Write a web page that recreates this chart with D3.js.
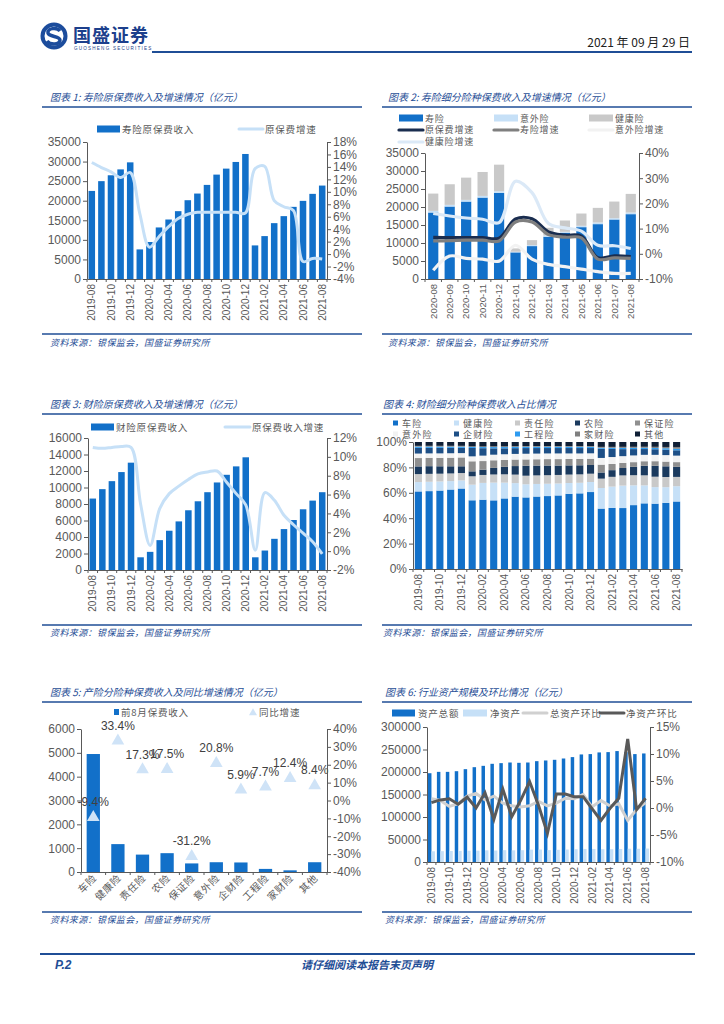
<!DOCTYPE html>
<html>
<head>
<meta charset="utf-8">
<script src="https://cdn.jsdelivr.net/npm/d3@7"></script>
<style>
  body { margin: 0; background: #fff; }
  svg text { font-family: "Liberation Sans", Arial, "Noto Sans CJK SC", sans-serif; }
  svg text.cn { font-family: "Noto Sans CJK SC", sans-serif; }
</style>
</head>
<body>
<div id="page"></div>
<script>
// ---- data ----
var months25 = ["2019-08","2019-09","2019-10","2019-11","2019-12","2020-01","2020-02","2020-03","2020-04","2020-05","2020-06","2020-07","2020-08","2020-09","2020-10","2020-11","2020-12","2021-01","2021-02","2021-03","2021-04","2021-05","2021-06","2021-07","2021-08"];
var months13 = ["2020-08","2020-09","2020-10","2020-11","2020-12","2021-01","2021-02","2021-03","2021-04","2021-05","2021-06","2021-07","2021-08"];

// chart 1: life premium (亿元) and growth (%)
var lifePremium = [22500,25000,26500,28000,29800,7560,9450,13170,15200,17330,20130,21830,24040,26670,28200,29900,31940,8580,10960,14270,16060,18430,19960,21750,23870];
var lifeGrowth = [14.7,13.9,13.2,12.3,13.1,6.5,1.1,2.8,4.4,5.7,6.4,6.7,6.7,6.7,6.7,6.7,6.6,13.7,14.1,8.6,7.6,7.0,-1.2,-0.7,-0.8];

// chart 2: life split
var life13 = [18470,20130,21510,22620,23910,7390,9140,11730,12830,14400,15240,16530,18010];
var accident13 = [460,460,470,460,470,180,280,370,280,370,460,370,460];
var health13 = [4800,5730,6180,6650,7380,930,1380,2120,3140,3420,4060,4610,5170];
var totalGrowth13 = [6.5,6.4,6.4,6.4,6.2,13.8,13.9,8.7,7.4,7.0,-1.6,-0.8,-1.1];
var lifeGrowth13 = [5.1,5.2,5.4,5.4,5.1,12.6,12.6,7.6,6.6,6.3,-2.1,-1.6,-1.8];
var accidentGrowth13 = [-6.5,-0.9,-1.8,-2.1,-2.9,3.4,-2.1,-4.2,-5.1,-6.1,-7.1,-7.8,-7.8];
var healthGrowth13 = [16.0,15.0,14.2,13.7,12.4,28.8,24.3,12.0,10.3,9.0,3.4,3.2,2.1];

// chart 3: property premium
var propPremium = [8660,9800,10770,11870,13010,1540,2200,3620,4760,5890,7240,8330,9430,10610,11540,12560,13660,1540,2360,3780,4960,6060,7360,8410,9430];
var propGrowth = [11.0,10.9,11.0,11.1,11.0,5.0,0.6,4.5,6.1,6.9,7.6,8.2,8.4,8.5,7.3,6.1,4.9,0.1,6.2,5.4,3.8,2.8,1.9,1.0,-0.3];

// chart 4: property line shares (%)
var shareKeys = ["车险","健康险","责任险","农险","保证险","意外险","企财险","工程险","家财险","其他"];
var shareAuto = [60.4,60.9,61.4,62.2,63.0,54.1,54.9,54.1,55.9,57.7,56.7,57.5,58.0,58.5,59.8,60.1,61.2,47.0,47.5,47.8,50.4,52.2,51.4,52.0,53.0];
var shareHealth = [7.3,7.3,7.1,6.6,6.3,12.3,13.3,14.0,12.5,10.8,10.4,10.0,9.8,9.5,8.6,8.4,8.0,16.0,16.6,17.6,15.6,14.3,13.0,12.3,12.0];
var shareLiab = [6.2,6.2,6.1,6.0,5.8,6.6,6.3,6.4,6.6,6.8,6.8,6.8,6.8,6.8,6.7,6.7,6.6,7.3,7.6,8.0,8.0,8.0,8.2,8.0,7.3];
var shareAgri = [6.0,6.0,5.8,5.6,5.3,3.9,4.2,5.2,5.9,6.8,7.9,7.8,7.7,7.5,7.3,7.2,6.9,4.8,5.2,5.8,6.6,7.6,8.6,8.4,7.9];
var shareSurety = [6.5,6.5,6.6,6.7,6.9,7.9,6.8,6.0,5.5,5.2,5.0,5.0,5.1,5.1,5.1,5.0,5.0,6.1,4.8,4.0,3.7,3.6,3.6,3.7,3.7];
var shareAccident = [3.5,3.5,3.5,3.5,3.4,3.9,4.3,4.4,4.5,4.5,4.5,4.5,4.5,4.5,4.4,4.4,4.3,5.2,5.4,5.3,5.3,5.1,5.0,5.1,5.1];
var shareProp = [4.4,4.3,4.3,4.2,4.1,6.6,5.9,5.0,4.7,4.6,4.5,4.4,4.3,4.3,4.3,4.3,4.2,7.1,6.3,5.5,5.0,4.6,4.4,4.3,4.2];
var shareEng = [1.0,1.0,1.0,1.0,1.0,0.8,0.9,1.0,1.0,1.0,1.0,1.0,1.0,1.0,1.0,1.0,1.0,0.8,0.9,1.0,1.0,1.0,1.0,1.1,1.2];
var shareHome = [0.6,0.6,0.6,0.6,0.6,0.5,0.5,0.6,0.6,0.6,0.6,0.6,0.6,0.6,0.6,0.6,0.6,0.7,0.7,0.8,0.8,0.8,0.9,1.0,1.4];
var shareOther = [3.0,3.0,3.0,3.0,3.0,3.4,3.5,3.4,3.4,3.3,3.2,3.2,3.2,3.2,3.2,3.2,3.2,3.8,3.8,3.8,3.8,3.8,3.8,3.9,3.9];
var shareColors = ["#1270c9","#c6e0f7","#c9c9c9","#1b3a5e","#8f8f8f","#f2f2f2","#1d4f86","#2e9bf0","#7f7f7f","#0f1f35"];

// chart 5: by line, Jan-Aug
var cats5 = ["车险","健康险","责任险","农险","保证险","意外险","企财险","工程险","家财险","其他"];
var prem5 = [4950,1170,730,790,360,410,400,130,70,410];
var growth5 = [-9.4,33.4,17.3,17.5,-31.2,20.8,5.9,7.7,12.4,8.4];

// chart 6: industry assets
var totalAssets = [197300,200300,200300,201800,206300,210700,213700,218200,219700,221100,220400,221100,224100,225600,227100,230000,233100,239000,239800,243500,244200,246500,244000,239800,241200];
var netAssets = [23800,24100,24500,24700,25100,25200,25900,25400,26300,25900,26200,27500,27700,26400,27100,27800,28400,29000,29000,28400,28400,28900,29500,29400,29900];
var totalMoM = [1.7,1.4,0.3,0.8,2.2,2.7,1.5,2.2,0.9,0.4,0.2,0.4,1.2,0.4,0.9,1.8,1.7,2.5,0.2,1.4,0.4,0.8,-2.3,-0.3,1.0];
var netMoM = [1.0,1.5,1.7,0.7,2.0,0.0,2.8,-2.1,3.5,-1.6,1.4,4.9,0.5,-4.7,2.6,2.6,2.1,2.1,-0.1,-2.3,-0.1,1.8,12.8,-0.3,1.8];

// ---- styles ----
var BLUE = "#1270c9", LIGHT = "#c6e0f7", NAVY = "#1f4e96", GREY = "#595959";
var LEG = 9.5;

var svg = d3.select("#page").append("svg")
  .attr("width", 724).attr("height", 1024);
svg.append("rect").attr("width", 724).attr("height", 1024).attr("fill", "#fff");

function pct(d) { return Math.round(d) + "%"; }

function yAxis(g, scale, x, side, n, fmt) {
  var ax = (side == "left" ? d3.axisLeft(scale) : d3.axisRight(scale))
    .ticks(n).tickFormat(fmt).tickSize(4).tickSizeOuter(0).tickPadding(2);
  var a = g.append("g").attr("transform", "translate(" + x + ",0)").call(ax);
  a.select(".domain").attr("stroke", GREY);
  a.selectAll(".tick line").attr("stroke", GREY);
  a.selectAll("text").attr("fill", GREY).attr("font-size", 12)
    .attr("font-family", "Liberation Sans, Arial, sans-serif");
  return a;
}

function xAxis(g, scale, y, every, size) {
  var a = g.append("g").attr("transform", "translate(0," + y + ")")
    .call(d3.axisBottom(scale).tickSize(0).tickSizeOuter(0)
      .tickFormat(function (d, i) { return i % every == 0 ? d : ""; }));
  a.select(".domain").attr("stroke", GREY);
  a.selectAll("text")
    .attr("transform", "rotate(-90)").attr("text-anchor", "end")
    .attr("x", -5).attr("y", 0).attr("dy", "0.35em")
    .attr("fill", GREY).attr("font-size", size)
    .attr("font-family", "Liberation Sans, Arial, sans-serif");
  // small tick marks between categories
  var st = scale.step(), r = scale.range();
  a.selectAll("line.sep").data(d3.range(scale.domain().length + 1)).enter()
    .append("line").attr("class", "sep")
    .attr("x1", function (i) { return r[0] + i * st; })
    .attr("x2", function (i) { return r[0] + i * st; })
    .attr("y1", 0).attr("y2", 3).attr("stroke", GREY);
  return a;
}

function cnText(g, x, y, s, size, color, anchor) {
  return g.append("text").attr("class", "cn").attr("x", x).attr("y", y)
    .attr("font-size", size).attr("fill", color || GREY)
    .attr("text-anchor", anchor || "start").text(s);
}
function legText(g, x, y, s, size) {
  return cnText(g, x, y, s, size || LEG).attr("letter-spacing", 0.8);
}

function swatchRect(g, x, y, w, h, c) {
  g.append("rect").attr("x", x).attr("y", y - h / 2).attr("width", w).attr("height", h).attr("fill", c);
}
function swatchLine(g, x, y, w, c, sw) {
  g.append("line").attr("x1", x).attr("x2", x + w).attr("y1", y).attr("y2", y)
    .attr("stroke", c).attr("stroke-width", sw || 3).attr("stroke-linecap", "round");
}

function titleBlock(x0, x1, tx, ty, title, lineY, srcY) {
  cnText(svg, tx, ty, title, 10, NAVY).attr("font-style", "italic");
  svg.append("line").attr("x1", x0).attr("x2", x1).attr("y1", ty + 6).attr("y2", ty + 6)
    .attr("stroke", NAVY).attr("stroke-width", 1.5);
  svg.append("line").attr("x1", x0).attr("x2", x1).attr("y1", lineY).attr("y2", lineY)
    .attr("stroke", NAVY).attr("stroke-width", 1.5);
  cnText(svg, tx, srcY, "资料来源：银保监会，国盛证券研究所", 9, NAVY)
    .attr("font-style", "italic").attr("letter-spacing", 0.4);
}

// ---- header ----
var logo = svg.append("g").attr("transform", "translate(54,36)");
logo.append("circle").attr("r", 11.5).attr("fill", "none").attr("stroke", "#1c4c9c").attr("stroke-width", 4);
logo.append("path").attr("d", "M6,-5 C3,-9 -7,-8 -6,-3 C-5,1 6,0 6,4 C6,9 -4,9 -7,5")
  .attr("fill", "none").attr("stroke", "#1c4c9c").attr("stroke-width", 3.5);
svg.append("text").attr("class", "cn").attr("x", 73).attr("y", 42)
  .attr("font-size", 18).attr("font-weight", "bold").attr("fill", "#1c3f8c")
  .attr("letter-spacing", 1).text("国盛证券");
svg.append("text").attr("x", 74).attr("y", 50).attr("font-size", 4.6)
  .attr("fill", "#1c3f8c").attr("letter-spacing", 1.2).text("GUOSHENG SECURITIES");
svg.append("line").attr("x1", 152).attr("x2", 692).attr("y1", 52).attr("y2", 52)
  .attr("stroke", NAVY).attr("stroke-width", 2);
cnText(svg, 690, 47, "2021 年 09 月 29 日", 12, "#222", "end");

// ---- footer ----
svg.append("line").attr("x1", 40).attr("x2", 695).attr("y1", 954).attr("y2", 954)
  .attr("stroke", NAVY).attr("stroke-width", 2);
svg.append("text").attr("x", 55).attr("y", 969).attr("font-size", 12).attr("font-weight", "bold")
  .attr("font-style", "italic").attr("fill", NAVY).text("P.2");
cnText(svg, 367, 969, "请仔细阅读本报告末页声明", 11, NAVY, "middle")
  .attr("font-weight", "bold").attr("font-style", "italic");

// ---- chart 1 ----
(function () {
  titleBlock(42, 362, 50, 101, "图表 1:  寿险原保费收入及增速情况（亿元）", 334, 346);
  var g = svg.append("g");
  var x = d3.scaleBand().domain(months25).range([87, 327]).paddingInner(0.32).paddingOuter(0.16);
  var y = d3.scaleLinear().domain([0, 35000]).range([279, 142]);
  var yr = d3.scaleLinear().domain([-4, 18]).range([279, 142]);
  g.selectAll("rect.bar").data(lifePremium).enter().append("rect")
    .attr("x", function (d, i) { return x(months25[i]); })
    .attr("y", function (d) { return y(d); })
    .attr("width", x.bandwidth())
    .attr("height", function (d) { return y(0) - y(d); })
    .attr("fill", BLUE);
  g.append("path").datum(lifeGrowth)
    .attr("d", d3.line()
      .x(function (d, i) { return x(months25[i]) + x.bandwidth() / 2; })
      .y(function (d) { return yr(d); })
      .curve(d3.curveCatmullRom))
    .attr("fill", "none").attr("stroke", LIGHT).attr("stroke-width", 3);
  yAxis(g, y, 87, "left", 7, d3.format("d"));
  yAxis(g, yr, 327, "right", 11, pct);
  xAxis(g, x, 279, 2, 10);
  swatchRect(g, 97, 129, 23, 7, BLUE);
  legText(g, 122, 132.5, "寿险原保费收入");
  swatchLine(g, 239, 129, 24, LIGHT, 3);
  legText(g, 265, 132.5, "原保费增速");
})();

// ---- chart 2 ----
(function () {
  titleBlock(382, 692, 388, 101, "图表 2:  寿险细分险种保费收入及增速情况（亿元）", 334, 346);
  var g = svg.append("g");
  var x = d3.scaleBand().domain(months13).range([425, 639]).paddingInner(0.38).paddingOuter(0.19);
  var y = d3.scaleLinear().domain([0, 35000]).range([279, 153]);
  var yr = d3.scaleLinear().domain([-10, 40]).range([279, 153]);
  var rows = months13.map(function (m, i) {
    return { m: m, life: life13[i], acc: accident13[i], health: health13[i] };
  });
  var keys = ["life", "acc", "health"], cols = [BLUE, LIGHT, "#c9c9c9"];
  var series = d3.stack().keys(keys)(rows);
  g.selectAll("g.s").data(series).enter().append("g")
    .attr("fill", function (d, i) { return cols[i]; })
    .selectAll("rect").data(function (d) { return d; }).enter().append("rect")
    .attr("x", function (d) { return x(d.data.m); })
    .attr("y", function (d) { return y(d[1]); })
    .attr("width", x.bandwidth())
    .attr("height", function (d) { return y(d[0]) - y(d[1]); });
  var lines = [
    { v: totalGrowth13, c: "#1a2d4f" },
    { v: lifeGrowth13, c: "#7f7f7f" },
    { v: accidentGrowth13, c: "#f2f2f2" },
    { v: healthGrowth13, c: "#dbe9f7" }
  ];
  var line = d3.line()
    .x(function (d, i) { return x(months13[i]) + x.bandwidth() / 2; })
    .y(function (d) { return yr(d); })
    .curve(d3.curveCatmullRom);
  g.selectAll("path.l").data(lines).enter().append("path")
    .attr("d", function (d) { return line(d.v); })
    .attr("fill", "none").attr("stroke", function (d) { return d.c; }).attr("stroke-width", 3.2);
  yAxis(g, y, 425, "left", 7, d3.format("d"));
  yAxis(g, yr, 639, "right", 5, pct);
  xAxis(g, x, 279, 1, 9.5);
  swatchRect(g, 399, 118, 24, 7, BLUE); legText(g, 425, 121.5, "寿险", 9);
  swatchRect(g, 494, 118, 24, 7, LIGHT); legText(g, 520, 121.5, "意外险", 9);
  swatchRect(g, 589, 118, 24, 7, "#c9c9c9"); legText(g, 615, 121.5, "健康险", 9);
  swatchLine(g, 399, 130, 24, "#1a2d4f", 3.2); legText(g, 425, 133, "原保费增速", 9);
  swatchLine(g, 494, 130, 24, "#7f7f7f", 3.2); legText(g, 520, 133, "寿险增速", 9);
  swatchLine(g, 589, 130, 24, "#f2f2f2", 3.2); legText(g, 615, 133, "意外险增速", 9);
  swatchLine(g, 399, 142, 24, "#dbe9f7", 3.2); legText(g, 425, 145, "健康险增速", 9);
})();

// ---- chart 3 ----
(function () {
  titleBlock(42, 362, 50, 408, "图表 3:  财险原保费收入及增速情况（亿元）", 625, 636);
  var g = svg.append("g");
  var x = d3.scaleBand().domain(months25).range([88, 327]).paddingInner(0.32).paddingOuter(0.16);
  var y = d3.scaleLinear().domain([0, 16000]).range([570, 438]);
  var yr = d3.scaleLinear().domain([-2, 12]).range([570, 438]);
  g.selectAll("rect.bar").data(propPremium).enter().append("rect")
    .attr("x", function (d, i) { return x(months25[i]); })
    .attr("y", function (d) { return y(d); })
    .attr("width", x.bandwidth())
    .attr("height", function (d) { return y(0) - y(d); })
    .attr("fill", BLUE);
  g.append("path").datum(propGrowth)
    .attr("d", d3.line()
      .x(function (d, i) { return x(months25[i]) + x.bandwidth() / 2; })
      .y(function (d) { return yr(d); })
      .curve(d3.curveCatmullRom))
    .attr("fill", "none").attr("stroke", LIGHT).attr("stroke-width", 3);
  yAxis(g, y, 88, "left", 8, d3.format("d"));
  yAxis(g, yr, 327, "right", 7, pct);
  xAxis(g, x, 570, 2, 10);
  swatchRect(g, 91, 427, 23, 7, BLUE);
  legText(g, 116, 430.5, "财险原保费收入");
  swatchLine(g, 225, 427, 25, LIGHT, 3);
  legText(g, 252, 430.5, "原保费收入增速");
})();

// ---- chart 4 ----
(function () {
  titleBlock(382, 692, 383, 408, "图表 4:  财险细分险种保费收入占比情况", 625, 636);
  var g = svg.append("g");
  var x = d3.scaleBand().domain(months25).range([413, 682]).paddingInner(0.34).paddingOuter(0.17);
  var y = d3.scaleLinear().domain([0, 1]).range([569, 442]);
  var cols = [shareAuto, shareHealth, shareLiab, shareAgri, shareSurety, shareAccident, shareProp, shareEng, shareHome, shareOther];
  var rows = months25.map(function (m, i) {
    var r = { m: m };
    shareKeys.forEach(function (k, j) { r[k] = cols[j][i]; });
    return r;
  });
  var series = d3.stack().keys(shareKeys).offset(d3.stackOffsetExpand)(rows);
  g.selectAll("g.s").data(series).enter().append("g")
    .attr("fill", function (d, i) { return shareColors[i]; })
    .selectAll("rect").data(function (d) { return d; }).enter().append("rect")
    .attr("x", function (d) { return x(d.data.m); })
    .attr("y", function (d) { return y(d[1]); })
    .attr("width", x.bandwidth())
    .attr("height", function (d) { return y(d[0]) - y(d[1]); });
  yAxis(g, y, 413, "left", 5, function (d) { return Math.round(d * 100) + "%"; });
  xAxis(g, x, 569, 2, 10);
  var lx = [393, 454, 515, 575, 635];
  shareKeys.forEach(function (k, j) {
    var cx = lx[j % 5], cy = j < 5 ? 423 : 434;
    g.append("rect").attr("x", cx).attr("y", cy - 2.5).attr("width", 5).attr("height", 5)
      .attr("fill", shareColors[j]);
    cnText(g, cx + 9, cy + 3.5, k, 9).attr("letter-spacing", 1.2);
  });
})();

// ---- chart 5 ----
(function () {
  titleBlock(42, 362, 50, 696, "图表 5:  产险分险种保费收入及同比增速情况（亿元）", 912, 923);
  var g = svg.append("g");
  var x = d3.scaleBand().domain(cats5).range([81, 327]).paddingInner(0.46).paddingOuter(0.23);
  var y = d3.scaleLinear().domain([0, 6000]).range([872, 729]);
  var yr = d3.scaleLinear().domain([-40, 40]).range([872, 729]);
  g.selectAll("rect.bar").data(prem5).enter().append("rect")
    .attr("x", function (d, i) { return x(cats5[i]); })
    .attr("y", function (d) { return y(d); })
    .attr("width", x.bandwidth())
    .attr("height", function (d) { return y(0) - y(d); })
    .attr("fill", BLUE);
  var tri = d3.symbol().type(d3.symbolTriangle).size(70);
  g.selectAll("path.t").data(growth5).enter().append("path")
    .attr("d", tri)
    .attr("transform", function (d, i) {
      return "translate(" + (x(cats5[i]) + x.bandwidth() / 2) + "," + yr(d) + ")";
    })
    .attr("fill", "#cfe3f7");
  g.selectAll("text.lab").data(growth5).enter().append("text")
    .attr("x", function (d, i) { return x(cats5[i]) + x.bandwidth() / 2; })
    .attr("y", function (d) { return yr(d) - 11; })
    .attr("text-anchor", "middle").attr("font-size", 12).attr("fill", "#404040")
    .text(function (d) { return d.toFixed(1) + "%"; });
  yAxis(g, y, 81, "left", 6, d3.format("d"));
  yAxis(g, yr, 327, "right", 8, pct);
  var a = g.append("g").attr("transform", "translate(0,872)")
    .call(d3.axisBottom(x).tickSize(0).tickSizeOuter(0));
  a.select(".domain").attr("stroke", GREY);
  a.selectAll("text").attr("class", "cn")
    .attr("transform", "rotate(-45)").attr("text-anchor", "end")
    .attr("x", -2).attr("y", 4).attr("dy", "0.35em")
    .attr("font-size", 10).attr("letter-spacing", 0.6).attr("fill", GREY);
  var st = x.step();
  a.selectAll("line.sep").data(d3.range(cats5.length + 1)).enter().append("line")
    .attr("x1", function (i) { return 81 + i * st; }).attr("x2", function (i) { return 81 + i * st; })
    .attr("y1", 0).attr("y2", 3).attr("stroke", GREY);
  g.append("rect").attr("x", 114).attr("y", 709).attr("width", 5).attr("height", 6).attr("fill", BLUE);
  legText(g, 121, 715.5, "前8月保费收入");
  g.append("path").attr("d", d3.symbol().type(d3.symbolTriangle).size(28))
    .attr("transform", "translate(253,713)").attr("fill", "#cfe3f7");
  legText(g, 259, 715.5, "同比增速");
})();

// ---- chart 6 ----
(function () {
  titleBlock(382, 692, 385, 696, "图表 6:  行业资产规模及环比情况（亿元）", 912, 923);
  var g = svg.append("g");
  var x = d3.scaleBand().domain(months25).range([427, 650]).paddingInner(0.22).paddingOuter(0.11);
  var x1 = d3.scaleBand().domain(["total", "net"]).range([0, x.bandwidth()]);
  var y = d3.scaleLinear().domain([0, 300000]).range([862, 727]);
  var yr = d3.scaleLinear().domain([-10, 15]).range([862, 727]);
  g.selectAll("rect.tot").data(totalAssets).enter().append("rect")
    .attr("x", function (d, i) { return x(months25[i]) + x1("total"); })
    .attr("y", function (d) { return y(d); })
    .attr("width", x1.bandwidth())
    .attr("height", function (d) { return y(0) - y(d); })
    .attr("fill", BLUE);
  g.selectAll("rect.net").data(netAssets).enter().append("rect")
    .attr("x", function (d, i) { return x(months25[i]) + x1("net"); })
    .attr("y", function (d) { return y(d); })
    .attr("width", x1.bandwidth())
    .attr("height", function (d) { return y(0) - y(d); })
    .attr("fill", LIGHT);
  var line = d3.line()
    .x(function (d, i) { return x(months25[i]) + x.bandwidth() / 2; })
    .y(function (d) { return yr(d); });
  g.append("path").datum(totalMoM).attr("d", line)
    .attr("fill", "none").attr("stroke", "#d0d0d0").attr("stroke-width", 3);
  g.append("path").datum(netMoM).attr("d", line)
    .attr("fill", "none").attr("stroke", "#595959").attr("stroke-width", 3);
  yAxis(g, y, 427, "left", 6, d3.format("d"));
  yAxis(g, yr, 650, "right", 5, pct);
  xAxis(g, x, 862, 2, 10);
  swatchRect(g, 392, 713, 23, 7, BLUE); legText(g, 418, 716.5, "资产总额");
  swatchRect(g, 463, 713, 24, 7, LIGHT); legText(g, 490, 716.5, "净资产");
  swatchLine(g, 523, 713, 24, "#d0d0d0", 3); legText(g, 550, 716.5, "总资产环比");
  swatchLine(g, 600, 713, 24, "#595959", 3); legText(g, 626, 716.5, "净资产环比");
})();
</script>
</body>
</html>
